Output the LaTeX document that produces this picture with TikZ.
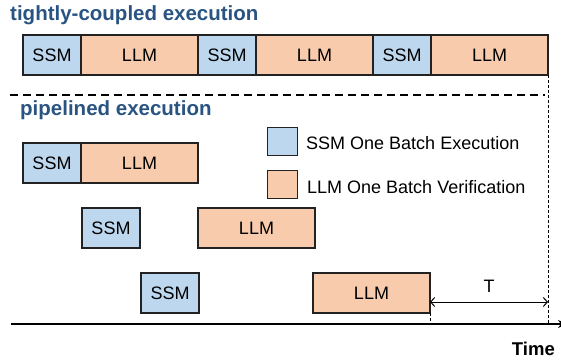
\documentclass[tikz,border=0pt]{standalone}
\usepackage{fontspec}
\setmainfont{Liberation Sans}
\usetikzlibrary{arrows.meta}
\definecolor{ssmblue}{RGB}{189,215,238}
\definecolor{llmorange}{RGB}{248,203,173}
\definecolor{titleblue}{RGB}{41,84,130}
\definecolor{edgegray}{RGB}{34,34,34}
\tikzset{
  box/.style={draw=edgegray, line width=1.4pt, minimum height=40pt, inner sep=0pt, outer sep=0pt, font=\fontsize{18}{20}\selectfont},
  ssmbox/.style={box, fill=ssmblue, minimum width=58pt},
  llmbox/.style={box, fill=llmorange, minimum width=117pt},
  legbox/.style={draw=edgegray, line width=1.4pt, minimum width=30pt, minimum height=28pt, inner sep=0pt, outer sep=0pt},
  legtext/.style={anchor=base west, inner sep=0pt, font=\fontsize{18}{20}\selectfont},
  heading/.style={anchor=base west, inner sep=0pt, text=titleblue, font=\fontsize{20.5}{24}\bfseries\selectfont},
  vdash/.style={line width=1pt, dash pattern=on 3pt off 2pt},
}
\begin{document}
\begin{tikzpicture}[x=1pt,y=-1pt]
\useasboundingbox (0,0) rectangle (561,360);
% headings
\node[heading] (h1) at (10,20) {tightly-coupled execution};
\node[heading] (h2) at (20,115) {pipelined execution};
% tightly-coupled row
\node[ssmbox, anchor=north west] (t1) at (23,35) {SSM};
\node[llmbox, anchor=west] (t2) at (t1.east) {LLM};
\node[ssmbox, anchor=west] (t3) at (t2.east) {SSM};
\node[llmbox, anchor=west] (t4) at (t3.east) {LLM};
\node[ssmbox, anchor=west] (t5) at (t4.east) {SSM};
\node[llmbox, anchor=west] (t6) at (t5.east) {LLM};
% separator
\coordinate (dl) at (10,95);
\coordinate (dr) at (545,95);
\draw[line width=2.5pt, dash pattern=on 8pt off 5pt] (dl) -- (dr);
% pipelined rows
\node[ssmbox, anchor=north west] (p1s) at (23,143) {SSM};
\node[llmbox, anchor=west] (p1l) at (p1s.east) {LLM};
\node[ssmbox, anchor=north west] (p2s) at (82,208) {SSM};
\node[llmbox, anchor=north west] (p2l) at (198,208) {LLM};
\node[ssmbox, anchor=north west] (p3s) at (141,273) {SSM};
\node[llmbox, anchor=north west] (p3l) at (313,273) {LLM};
% legend
\node[legbox, fill=ssmblue] (lg1) at (282.3,141.2) {};
\node[legtext] (lt1) at (306,149.3) {SSM One Batch Execution};
\node[legbox, fill=llmorange] (lg2) at (282.3,184.5) {};
\node[legtext] (lt2) at (307,193) {LLM One Batch Verification};
% time axis
\coordinate (ax0) at (11,324);
\coordinate (ax1) at (567,324);
\draw[line width=2.5pt, -{Stealth[length=9pt,width=8pt]}] (ax0) -- (ax1);
\node[anchor=base east, inner sep=0pt, font=\fontsize{18.5}{20}\bfseries\selectfont] (time) at (555,355) {Time};
% dashed verticals
\draw[vdash] (t6.south east) -- (t6.south east |- ax0);
\draw[vdash] (p3l.south east) -- (p3l.south east |- ax0);
% T interval
\coordinate (ta) at (p3l.east |- 0,302);
\coordinate (tb) at (t6.east |- 0,302);
\draw[line width=1pt, {Straight Barb[length=4pt,width=9pt]}-{Straight Barb[length=4pt,width=9pt]}] (ta) -- (tb);
\node[anchor=base, inner sep=0pt, font=\fontsize{18}{20}\selectfont] (tl) at (489,292) {T};
\end{tikzpicture}
\end{document}
